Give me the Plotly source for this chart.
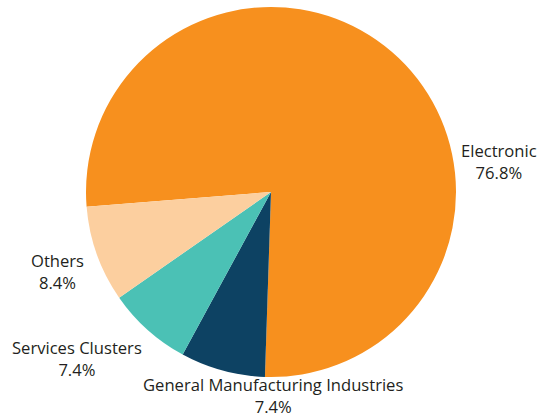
import plotly.graph_objects as go

# Share of output by sector
categories = ["Electronic", "General Manufacturing Industries", "Services Clusters", "Others"]
shares = [76.8, 7.4, 7.4, 8.4]
colors = ["#F7901E", "#0D4263", "#4BC1B5", "#FCCF9F"]

W, H = 540, 419
ml, mr, mt, mb = 86, 84, 7, 42

fig = go.Figure(
    go.Pie(
        labels=categories,
        values=shares,
        sort=False,
        direction="clockwise",
        rotation=265.4,
        marker=dict(colors=colors, line=dict(width=0)),
        textinfo="none",
        hoverinfo="label+percent",
        showlegend=False,
    )
)

# label anchor points (paper px) for each category's callout
label_pos = {
    "Electronic": (499, 162),
    "General Manufacturing Industries": (273, 396),
    "Services Clusters": (77, 358),
    "Others": (57, 271),
}

annotations = []
for name, val in zip(categories, shares):
    px, py = label_pos[name]
    annotations.append(
        dict(
            text=f"{name}<br>{val:.1f}%",
            x=(px - ml) / (W - ml - mr),
            y=1 - (py - mt) / (H - mt - mb),
            xref="paper",
            yref="paper",
            xanchor="center",
            yanchor="middle",
            showarrow=False,
            align="center",
            font=dict(family="Open Sans", size=16.6, color="#231F20"),
        )
    )

fig.update_layout(
    width=W,
    height=H,
    margin=dict(l=ml, r=mr, t=mt, b=mb),
    paper_bgcolor="white",
    plot_bgcolor="white",
    annotations=annotations,
)

fig.write_html("out.html")
